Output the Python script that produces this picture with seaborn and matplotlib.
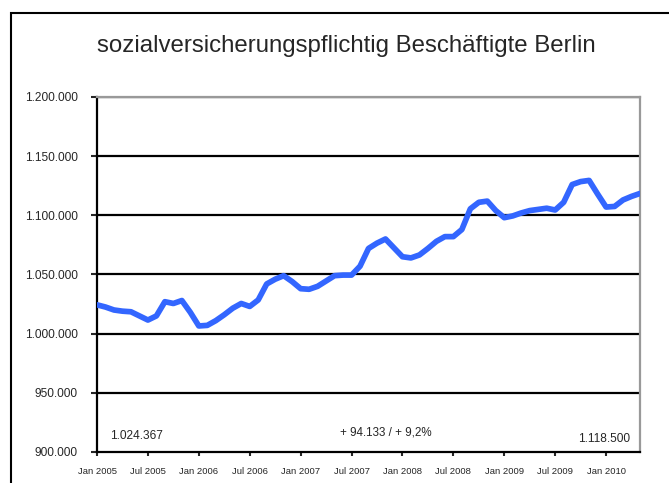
import numpy as np
import pandas as pd
import seaborn as sns
import matplotlib.pyplot as plt
from matplotlib.patches import Rectangle
from matplotlib.ticker import FuncFormatter

# monthly values Jan 2005 .. May 2010
beschaeftigte = [
    1024367, 1022500, 1020000, 1019000, 1018500, 1015000, 1011500, 1015000,
    1027000, 1025500, 1028000, 1018000, 1006500, 1007000, 1011000, 1016000,
    1021500, 1025500, 1023000, 1028500, 1042000, 1046000, 1049000, 1044000,
    1038000, 1037500, 1040000, 1044500, 1049000, 1049500, 1049500, 1057000,
    1072000, 1076500, 1080000, 1072500, 1065000, 1064000, 1066500, 1072000,
    1078000, 1082000, 1082000, 1088000, 1105500, 1111000, 1112000, 1104000,
    1098000, 1099500, 1102000, 1104000, 1105000, 1106000, 1104500, 1111000,
    1126000, 1128500, 1129500, 1118000, 1107000, 1107500, 1113000, 1116000,
    1118500,
]
tick_labels = ["Jan 2005", "Jul 2005", "Jan 2006", "Jul 2006", "Jan 2007",
               "Jul 2007", "Jan 2008", "Jul 2008", "Jan 2009", "Jul 2009",
               "Jan 2010"]
start_label = "1.024.367"
end_label = "1.118.500"
diff_label = "+ 94.133 / + 9,2%"

df = pd.DataFrame({"monat": np.arange(len(beschaeftigte)),
                   "wert": beschaeftigte})

sns.set_style("white")
plt.rcParams["font.family"] = ["Liberation Sans", "DejaVu Sans"]

fig = plt.figure(figsize=(6.69, 4.83), dpi=100)
ax = fig.add_axes([0.145, 0.0642, 0.8117, 0.735])

# outer chart border
fig.patches.append(Rectangle((11 / 669, -0.1), 1.2, 1 - 13 / 483 + 0.1,
                             transform=fig.transFigure, fill=False,
                             edgecolor="black", linewidth=1.5))

for v in range(950000, 1200001, 50000):
    ax.axhline(v, color="black", linewidth=1.6, zorder=1)

sns.lineplot(data=df, x="monat", y="wert", ax=ax, color="#3366ff",
             linewidth=4.1, zorder=3)

ax.set_xlim(0, len(beschaeftigte) - 1)
ax.set_ylim(900000, 1200000)
ax.set_yticks(range(900000, 1200001, 50000))
ax.yaxis.set_major_formatter(FuncFormatter(lambda v, p: f"{int(v):,}".replace(",", ".")))
ax.set_xticks(range(0, 61, 6))
ax.set_xticklabels(tick_labels)
ax.set_xlabel("")
ax.set_ylabel("")

ax.tick_params(axis="y", direction="out", length=4, width=1.5, labelsize=8.6,
               left=True, pad=10)
ax.tick_params(axis="x", direction="out", length=3, width=1.5, labelsize=6.8,
               bottom=True, pad=8)

for side in ["left", "bottom"]:
    ax.spines[side].set_color("black")
    ax.spines[side].set_linewidth(1.6)
for side in ["top", "right"]:
    ax.spines[side].set_color("#999999")
    ax.spines[side].set_linewidth(1.6)

ax.text(0.024, 0.045, start_label, transform=ax.transAxes, fontsize=8.6,
        ha="left", va="center")
ax.text(0.532, 0.054, diff_label, transform=ax.transAxes, fontsize=8.4,
        ha="center", va="center")
ax.text(0.982, 0.036, end_label, transform=ax.transAxes, fontsize=8.6,
        ha="right", va="center")

fig.text(0.517, 1 - 46 / 483, "sozialversicherungspflichtig Beschäftigte Berlin",
         ha="center", va="center", fontsize=17.3)

fig.savefig("out.png", dpi=100)
